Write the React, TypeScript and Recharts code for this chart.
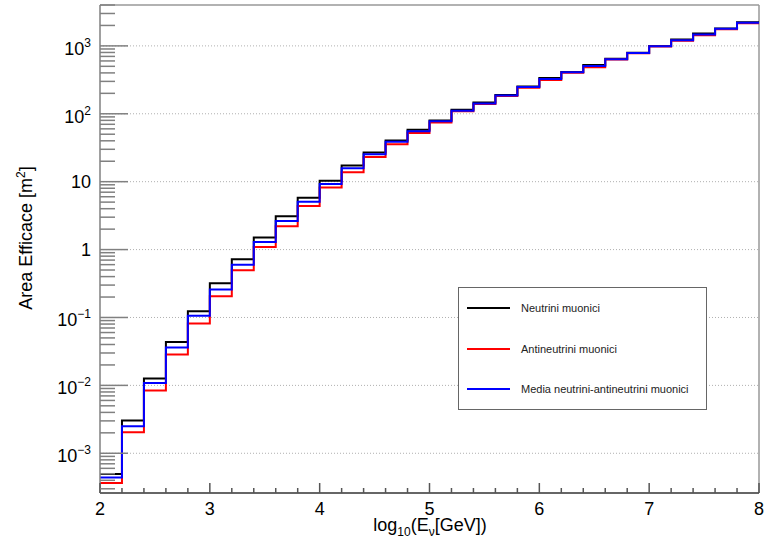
import { LineChart, Line, XAxis, YAxis, ReferenceLine } from 'recharts';

// bin lower edges, log10(E/GeV), width 0.2
const binLow = [
  2.0, 2.2, 2.4, 2.6, 2.8, 3.0, 3.2, 3.4, 3.6, 3.8,
  4.0, 4.2, 4.4, 4.6, 4.8, 5.0, 5.2, 5.4, 5.6, 5.8,
  6.0, 6.2, 6.4, 6.6, 6.8, 7.0, 7.2, 7.4, 7.6, 7.8,
];
const binHigh = 8.0;

// effective area [m^2]
const neutrini = [
  4.97e-4, 3.03e-3, 1.26e-2, 4.35e-2, 0.124, 0.318, 0.72, 1.5, 3.1, 5.8,
  10.3, 17.3, 26.9, 40.4, 58, 79.6, 114.6, 146, 189, 253,
  336, 412, 521, 645, 795, 995, 1238, 1520, 1800, 2228,
];
const antineutrini = [
  3.66e-4, 2.04e-3, 8.4e-3, 2.84e-2, 0.0815, 0.206, 0.495, 1.09, 2.21, 4.39,
  8.2, 13.8, 23, 35.7, 51.9, 74.5, 109, 139, 182, 241,
  314, 402, 483, 630, 780, 978, 1190, 1432, 1765, 2160,
];
const media = [
  4.4e-4, 2.5e-3, 1.08e-2, 3.6e-2, 0.106, 0.259, 0.6, 1.29, 2.64, 5.07,
  9.25, 15.8, 25.4, 38.6, 55.2, 77.4, 111, 142, 186, 247,
  326, 408, 505, 638, 788, 986, 1212, 1475, 1782, 2190,
];

const xTicks = [2, 2.2, 2.4, 2.6, 2.8, 3, 3.2, 3.4, 3.6, 3.8, 4, 4.2, 4.4, 4.6, 4.8, 5,
  5.2, 5.4, 5.6, 5.8, 6, 6.2, 6.4, 6.6, 6.8, 7, 7.2, 7.4, 7.6, 7.8, 8];
const decades = [1e-3, 1e-2, 1e-1, 1, 10, 100, 1000];
const yMin = 2.6e-4;
const yMax = 4000;

const series = [
  { key: 'nu', name: 'Neutrini muonici', color: '#000000', values: neutrini },
  { key: 'anti', name: 'Antineutrini muonici', color: '#ff0000', values: antineutrini },
  { key: 'media', name: 'Media neutrini-antineutrini muonici', color: '#0000ff', values: media },
];

// one row per bin edge; the closing edge repeats the last bin so the step reaches x=8
const rows = binLow.map((x, i) => {
  const r: any = { x };
  series.forEach((s) => (r[s.key] = s.values[i]));
  return r;
});
const closing: any = { x: binHigh };
series.forEach((s) => (closing[s.key] = s.values[s.values.length - 1]));
rows.push(closing);

// log minor ticks 2..9 x decade inside the range
const yTicks: number[] = [];
for (let e = -4; e <= 3; e++) {
  for (let m = 1; m <= 9; m++) {
    const v = Number((m * Math.pow(10, e)).toPrecision(3));
    if (v >= yMin && v <= yMax) yTicks.push(v);
  }
}

const FONT = '"Liberation Sans", Arial, Helvetica, sans-serif';

function YTick(props: any) {
  const { x, y, payload } = props;
  const v = payload.value;
  const e = Math.round(Math.log10(v));
  const major = Math.abs(v - Math.pow(10, e)) / v < 1e-6;
  let label: any = null;
  if (major) {
    if (e === 0 || e === 1) {
      label = (
        <text x={x - 9} y={y} dy="0.35em" textAnchor="end" fontSize={18} fill="#000" fontFamily={FONT}>
          {e === 0 ? '1' : '10'}
        </text>
      );
    } else {
      label = (
        <text x={x - 9} y={y} dy="0.5em" textAnchor="end" fontSize={18} fill="#000" fontFamily={FONT}>
          10<tspan dy={-8} fontSize={12}>{e < 0 ? '\u2212' + -e : String(e)}</tspan>
        </text>
      );
    }
  }
  return (
    <g>
      <line x1={x} x2={x + (major ? 28 : 15)} y1={y} y2={y} stroke="#808080" strokeWidth={1.5} />
      {label}
    </g>
  );
}

function XTick(props: any) {
  const { x, y, payload } = props;
  const v = payload.value;
  const major = Math.abs(v - Math.round(v)) < 1e-6;
  return (
    <g>
      <line x1={x} x2={x} y1={y} y2={y - (major ? 10 : 5)} stroke="#555" strokeWidth={1.5} />
      {major && (
        <text x={x} y={y + 22} textAnchor="middle" fontSize={18} fill="#000" fontFamily={FONT}>
          {v}
        </text>
      )}
    </g>
  );
}

function LegendBox() {
  return (
    <div
      style={{
        position: 'absolute', left: 458, top: 287, width: 249, height: 123,
        boxSizing: 'border-box', border: '1px solid #666', background: '#fff',
        fontFamily: FONT, fontSize: 11, color: '#222',
      }}
    >
      {series.map((s, i) => (
        <div key={s.key} style={{ position: 'absolute', left: 8, top: 12 + i * 40.5, height: 16, display: 'flex', alignItems: 'center' }}>
          <span style={{ display: 'inline-block', width: 43, height: 0, borderTop: `2px solid ${s.color}` }} />
          <span style={{ marginLeft: 11 }}>{s.name}</span>
        </div>
      ))}
    </div>
  );
}

export default function App() {
  return (
    <div style={{ position: 'absolute', left: 0, top: 0, width: 764, height: 545, background: '#fff' }}>
      <LineChart width={764} height={545} data={rows} margin={{ top: 5, right: 5, bottom: 0, left: 0 }}>
        {decades.map((d) => (
          <ReferenceLine key={d} y={d} stroke="#b0b0b0" strokeDasharray="1 2" />
        ))}
        <ReferenceLine y={yMax} stroke="#999" strokeWidth={1.5} />
        <ReferenceLine x={binHigh} stroke="#999" strokeWidth={1.5} />
        <XAxis
          dataKey="x"
          type="number"
          domain={[2, 8]}
          ticks={xTicks}
          interval={0}
          height={52}
          tickSize={0}
          tickMargin={0}
          tickLine={false}
          axisLine={{ stroke: '#333', strokeWidth: 1.5 }}
          tick={(p: any) => <XTick {...p} />}
        />
        <YAxis
          type="number"
          scale="log"
          domain={[yMin, yMax]}
          allowDataOverflow
          ticks={yTicks}
          interval={0}
          width={100}
          tickSize={0}
          tickMargin={0}
          tickLine={false}
          axisLine={{ stroke: '#808080', strokeWidth: 1.5 }}
          tick={(p: any) => <YTick {...p} />}
        />
        {series.map((s) => (
          <Line
            key={s.key}
            dataKey={s.key}
            name={s.name}
            type="stepAfter"
            stroke={s.color}
            strokeWidth={2}
            dot={false}
            activeDot={false}
            isAnimationActive={false}
          />
        ))}
        <text x={430} y={531} textAnchor="middle" fontSize={18} fill="#000" fontFamily={FONT}>
          log<tspan dy={5} fontSize={12}>10</tspan>
          <tspan dy={-5}>(E</tspan>
          <tspan dy={5} fontSize={12}>ν</tspan>
          <tspan dy={-5}>[GeV])</tspan>
        </text>
        <text x={32} y={238} transform="rotate(-90 32 238)" textAnchor="middle" fontSize={18} fill="#000" fontFamily={FONT}>
          Area Efficace [m<tspan dy={-7} fontSize={12}>2</tspan><tspan dy={7}>]</tspan>
        </text>
      </LineChart>
      <LegendBox />
    </div>
  );
}
